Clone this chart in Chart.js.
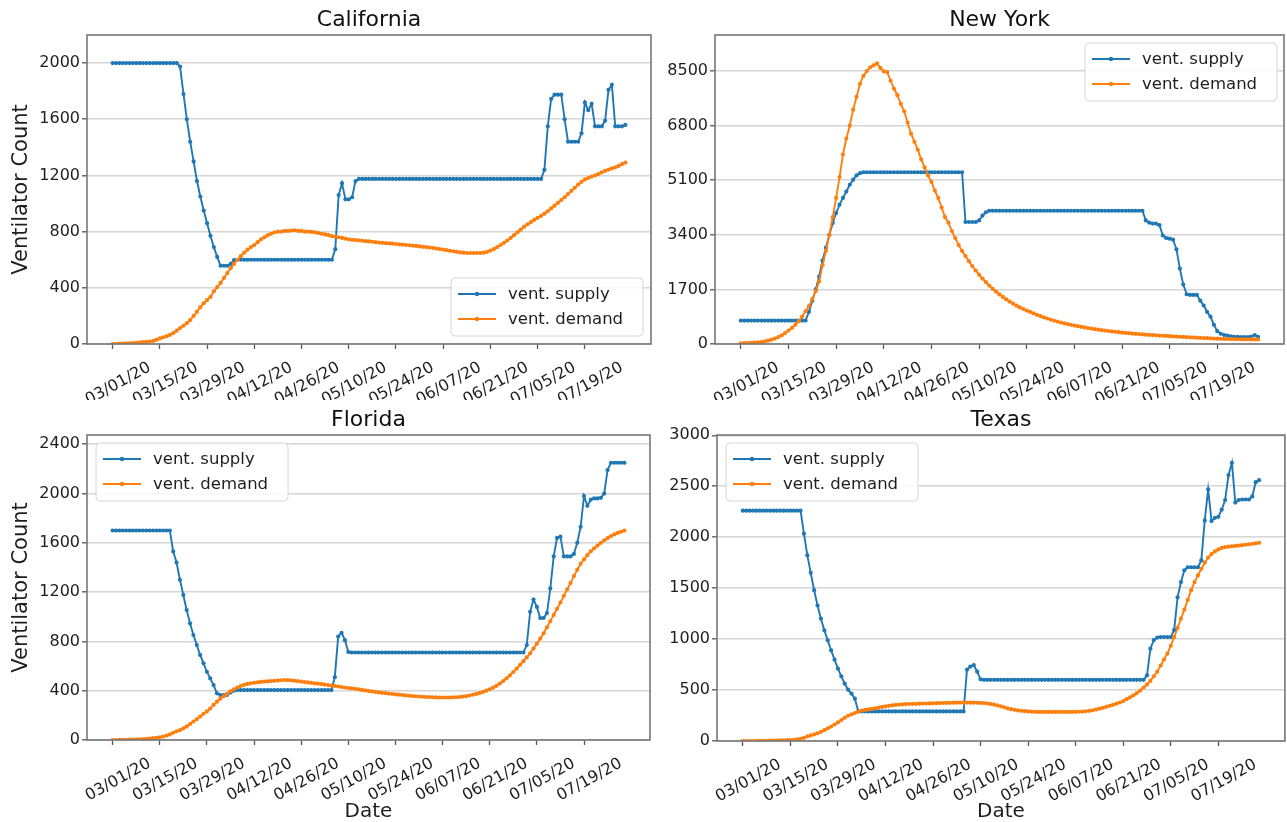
<!DOCTYPE html>
<html><head><meta charset="utf-8">
<script src="https://cdn.jsdelivr.net/npm/chart.js@4.4.1/dist/chart.umd.min.js"></script>
<style>
html,body{margin:0;padding:0;background:#fff;}
#wrap{position:relative;width:1287px;height:822px;overflow:hidden;background:#fff;}
canvas{position:absolute;display:block;}
</style></head><body>
<div id="wrap">
<canvas id="c0" width="660" height="400" style="left:0px;top:0px"></canvas>
<canvas id="c1" width="627" height="400" style="left:660px;top:0px"></canvas>
<canvas id="c2" width="660" height="425" style="left:0px;top:400px"></canvas>
<canvas id="c3" width="627" height="425" style="left:660px;top:400px"></canvas>
</div>
<script>
// ---- tick labels (day index from 03/01/20) ----
const tickDays = [0,14,28,42,56,70,84,98,112,126,140];
const tickLabels = ['03/01/20','03/15/20','03/29/20','04/12/20','04/26/20','05/10/20','05/24/20','06/07/20','06/21/20','07/05/20','07/19/20'];
const seriesNames = ['vent. supply','vent. demand'];

// ---- California ----
const caSupply = [
2000,2000,2000,2000,2000,2000,2000,2000,2000,2000,
2000,2000,2000,2000,2000,2000,2000,2000,2000,2000,
1975,1780,1600,1440,1300,1160,1050,950,860,770,
690,620,557,557,557,570,598,600,600,600,
600,600,600,600,600,600,600,600,600,600,
600,600,600,600,600,600,600,600,600,600,
600,600,600,600,600,600,675,1060,1145,1030,
1030,1045,1160,1175,1175,1175,1175,1175,1175,1175,
1175,1175,1175,1175,1175,1175,1175,1175,1175,1175,
1175,1175,1175,1175,1175,1175,1175,1175,1175,1175,
1175,1175,1175,1175,1175,1175,1175,1175,1175,1175,
1175,1175,1175,1175,1175,1175,1175,1175,1175,1175,
1175,1175,1175,1175,1175,1175,1175,1175,1240,1550,
1745,1775,1775,1775,1600,1440,1440,1440,1440,1500,
1720,1665,1710,1550,1550,1550,1590,1810,1845,1550,
1550,1550,1560];
const caDemand = [
0,1,2,3,4,5,7,9,11,13,
15,17,22,30,40,48,56,65,78,95,
114,130,148,170,200,230,262,290,313,335,
375,405,435,470,505,540,570,600,625,650,
672,690,705,725,745,760,775,785,795,800,
800,805,805,808,810,805,805,800,800,798,
795,790,785,780,775,768,763,760,755,750,
745,742,740,738,735,732,730,728,725,722,
720,718,716,714,712,710,708,705,703,700,
698,695,692,690,687,684,680,676,672,668,
664,660,656,652,650,648,648,648,648,648,
650,656,665,676,690,705,720,737,755,775,
795,815,835,852,868,884,898,912,928,945,
965,985,1005,1025,1045,1068,1090,1112,1135,1155,
1172,1182,1192,1200,1210,1222,1232,1242,1250,1258,
1268,1280,1292];
const caTicks = [0,400,800,1200,1600,2000];

// ---- New York ----
const nySupply = [
730,730,730,730,730,730,730,730,730,730,
730,730,730,730,730,730,730,730,730,730,
1000,1350,1700,2100,2600,3000,3400,3770,4080,4340,
4550,4750,4960,5120,5250,5320,5350,5350,5350,5350,
5350,5350,5350,5350,5350,5350,5350,5350,5350,5350,
5350,5350,5350,5350,5350,5350,5350,5350,5350,5350,
5350,5350,5350,5350,5350,5350,3800,3800,3800,3800,
3850,4000,4100,4150,4150,4150,4150,4150,4150,4150,
4150,4150,4150,4150,4150,4150,4150,4150,4150,4150,
4150,4150,4150,4150,4150,4150,4150,4150,4150,4150,
4150,4150,4150,4150,4150,4150,4150,4150,4150,4150,
4150,4150,4150,4150,4150,4150,4150,4150,4150,3850,
3780,3750,3750,3700,3380,3300,3280,3250,2950,2350,
1850,1550,1530,1530,1530,1350,1200,1000,850,600,
400,320,280,260,240,225,220,215,215,215,
230,280,220];
const nyDemand = [
20,25,30,35,42,50,60,80,105,135,
170,215,270,340,420,500,600,710,850,1020,
1180,1400,1650,1950,2450,2900,3400,3950,4550,5200,
5900,6400,6800,7300,7700,8100,8350,8500,8620,8680,
8740,8600,8490,8470,8200,7950,7750,7480,7250,6900,
6550,6300,6050,5750,5500,5250,5050,4780,4550,4250,
3950,3780,3520,3300,3080,2900,2740,2580,2430,2290,
2160,2040,1930,1820,1720,1630,1545,1465,1390,1320,
1255,1195,1140,1090,1040,1000,955,910,870,830,
795,760,730,700,670,645,620,597,575,555,
535,515,497,480,463,447,432,418,405,392,
380,368,357,346,336,326,317,308,300,292,
284,277,270,263,256,250,244,238,232,226,
220,214,208,202,196,190,185,180,175,170,
166,162,158,155,152,150,148,146,145,144,
143,142,140];
const nyTicks = [0,1700,3400,5100,6800,8500];

// ---- Florida ----
const flSupply = [
1700,1700,1700,1700,1700,1700,1700,1700,1700,1700,
1700,1700,1700,1700,1700,1700,1700,1700,1530,1440,
1300,1177,1055,947,852,771,690,622,554,500,
446,379,365,365,365,385,400,405,405,405,
405,405,405,405,405,405,405,405,405,405,
405,405,405,405,405,405,405,405,405,405,
405,405,405,405,405,405,510,840,870,810,
715,710,710,710,710,710,710,710,710,710,
710,710,710,710,710,710,710,710,710,710,
710,710,710,710,710,710,710,710,710,710,
710,710,710,710,710,710,710,710,710,710,
710,710,710,710,710,710,710,710,710,710,
710,710,710,770,1040,1140,1080,990,990,1030,
1230,1490,1640,1650,1490,1490,1490,1510,1600,1730,
1980,1900,1950,1960,1960,1965,2000,2190,2250,2250,
2250,2250,2250];
const flDemand = [
0,0,1,1,2,3,4,5,6,8,
10,12,15,18,22,28,36,45,58,70,
80,95,110,130,150,170,190,212,232,255,
285,311,335,355,375,395,411,425,438,448,
455,460,464,468,471,474,476,478,480,482,
485,487,486,484,481,478,474,470,467,464,
460,457,454,450,446,442,438,434,430,426,
422,419,415,411,406,402,398,394,390,386,
383,380,377,374,371,368,365,362,359,357,
355,353,351,349,348,347,346,345,345,345,
345,346,347,349,352,356,361,367,374,381,
390,400,412,425,440,458,478,500,525,552,
580,610,640,670,703,742,782,822,866,915,
965,1015,1065,1115,1170,1222,1275,1330,1382,1430,
1465,1500,1530,1555,1578,1600,1620,1638,1655,1668,
1680,1690,1700];
const flTicks = [0,400,800,1200,1600,2000,2400];

// ---- Texas ----
const txSupply = [
2260,2260,2260,2260,2260,2260,2260,2260,2260,2260,
2260,2260,2260,2260,2260,2260,2260,2260,2035,1822,
1650,1480,1330,1200,1086,988,890,798,710,635,
563,504,465,415,290,290,290,290,290,290,
290,290,290,290,290,290,290,290,290,290,
290,290,290,290,290,290,290,290,290,290,
290,290,290,290,290,290,700,730,745,680,
605,600,600,600,600,600,600,600,600,600,
600,600,600,600,600,600,600,600,600,600,
600,600,600,600,600,600,600,600,600,600,
600,600,600,600,600,600,600,600,600,600,
600,600,600,600,600,600,600,600,600,645,
906,990,1015,1020,1020,1020,1020,1090,1410,1560,
1675,1705,1705,1705,1705,1775,2165,2470,2160,2190,
2200,2270,2365,2610,2730,2340,2365,2370,2370,2370,
2400,2540,2560];
const txDemand = [
0,0,0,0,1,1,2,2,3,4,
5,6,7,8,10,12,16,22,30,45,
55,65,76,90,106,124,142,162,182,205,
228,248,262,275,287,298,305,310,315,320,
328,335,340,345,350,354,357,360,362,363,
364,365,366,367,368,369,370,371,372,373,
374,375,376,376,377,377,377,376,376,375,
374,372,368,362,356,349,340,330,320,312,
306,300,296,293,290,288,286,285,285,285,
285,285,285,285,285,285,285,285,286,287,
289,292,296,302,309,317,326,335,345,355,
366,378,392,410,428,448,470,495,525,555,
590,635,680,740,800,857,935,1020,1110,1200,
1290,1385,1480,1560,1625,1690,1750,1800,1835,1860,
1880,1895,1903,1907,1910,1914,1918,1922,1926,1930,
1935,1940,1945];
const txTicks = [0,500,1000,1500,2000,2500,3000];

// ---------------- drawing ----------------
Chart.defaults.font.family = "'DejaVu Sans', sans-serif";
Chart.defaults.color = '#1e1e1e';
const BLUE = '#1f77b4', ORANGE = '#ff7f0e';
const TXT = '#1e1e1e';

const framePlugin = {
  id: 'frame',
  afterDatasetsDraw(chart) {
    const {ctx, chartArea: a} = chart;
    ctx.save();
    ctx.strokeStyle = '#777777';
    ctx.lineWidth = 1.6;
    ctx.strokeRect(a.left, a.top, a.right - a.left, a.bottom - a.top);
    ctx.restore();
  }
};

const innerLegend = {
  id: 'innerLegend',
  afterDraw(chart, args, opts) {
    if (!opts || !opts.loc) return;
    const {ctx, chartArea: a} = chart;
    const w = 192, h = 58;
    let x, y;
    if (opts.loc === 'lower right') { x = a.right - 8 - w; y = a.bottom - 8 - h; }
    else if (opts.loc === 'upper right') { x = a.right - 7 - w; y = a.top + 8; }
    else { x = a.left + 9; y = a.top + 8; }
    ctx.save();
    ctx.beginPath();
    ctx.roundRect(x, y, w, h, 4);
    ctx.fillStyle = 'rgba(255,255,255,0.85)';
    ctx.fill();
    ctx.strokeStyle = '#d6d6d6';
    ctx.lineWidth = 1;
    ctx.stroke();
    const rows = [chart.data.datasets.find(d => d.label === seriesNames[0]), chart.data.datasets.find(d => d.label === seriesNames[1])];
    rows.forEach((ds, k) => {
      const cy = y + 16 + k * 25;
      ctx.strokeStyle = ds.borderColor;
      ctx.lineWidth = 1.8;
      ctx.beginPath(); ctx.moveTo(x + 7, cy); ctx.lineTo(x + 45, cy); ctx.stroke();
      ctx.fillStyle = ds.borderColor;
      ctx.beginPath(); ctx.arc(x + 26, cy, 2.2, 0, Math.PI * 2); ctx.fill();
      ctx.fillStyle = TXT;
      ctx.font = "16.5px 'DejaVu Sans', sans-serif";
      ctx.textBaseline = 'middle';
      ctx.textAlign = 'left';
      ctx.fillText(ds.label, x + 57, cy + 1);
    });
    ctx.restore();
  }
};

function makePanel(id, title, supply, demand, yTicks, yMax, cfg) {
  const toXY = arr => arr.map((v, i) => ({x: i, y: v}));
  const line = (label, data, color, order) => ({
    label, data: toXY(data), borderColor: color, backgroundColor: color,
    borderWidth: 1.9, pointRadius: 2.1, pointHoverRadius: 2.1, pointBorderWidth: 0,
    pointBackgroundColor: color, tension: 0, order
  });
  new Chart(document.getElementById(id), {
    type: 'line',
    data: { datasets: [line(seriesNames[0], supply, BLUE, 1), line(seriesNames[1], demand, ORANGE, 0)] },
    options: {
      responsive: false, animation: false, devicePixelRatio: 1,
      layout: { padding: { left: 0, right: cfg.padRight, top: 0, bottom: 0 } },
      plugins: {
        legend: { display: false },
        tooltip: { enabled: false },
        title: { display: true, text: title, fullSize: false, color: '#111',
          font: { size: 22, weight: 'normal' }, padding: { top: 7, bottom: 1.6 } },
        innerLegend: { loc: cfg.legendLoc }
      },
      scales: {
        x: {
          type: 'linear', min: -7.6, max: 159.6,
          afterBuildTicks: s => { s.ticks = tickDays.map(v => ({ value: v })); },
          afterFit: s => { s.height = cfg.xH; },
          ticks: { autoSkip: false, minRotation: 29, maxRotation: 29, labelOffset: 37, padding: 9,
            font: { size: 16 }, color: TXT,
            callback: v => tickLabels[tickDays.indexOf(v)] },
          grid: { display: true, drawOnChartArea: false, drawTicks: true, tickLength: 5, tickColor: '#555', tickWidth: 1.3 },
          border: { display: false },
          title: { display: !!cfg.xTitle, text: 'Date', font: { size: 20 }, color: TXT, padding: { top: 0, bottom: 1 } }
        },
        y: {
          type: 'linear', min: 0, max: yMax,
          afterBuildTicks: s => { s.ticks = yTicks.map(v => ({ value: v })); },
          afterFit: s => { s.width = cfg.yW; },
          ticks: { font: { size: 16 }, color: TXT, padding: 2, callback: v => String(v) },
          grid: { color: '#d6d6d6', lineWidth: 1.6, drawTicks: true, tickLength: 5, tickColor: '#555', tickWidth: 1.3 },
          border: { display: false },
          title: { display: !!cfg.yTitle, text: 'Ventilator Count', font: { size: 21 }, color: TXT, padding: { top: 9, bottom: 0 } }
        }
      }
    },
    plugins: [framePlugin, innerLegend]
  });
}

makePanel('c0', 'California', caSupply, caDemand, caTicks, 2200,
  { padRight: 9, yW: 87, xH: 56, yTitle: true, xTitle: false, legendLoc: 'lower right' });
makePanel('c1', 'New York', nySupply, nyDemand, nyTicks, 9625,
  { padRight: 3, yW: 55, xH: 56, yTitle: false, xTitle: false, legendLoc: 'upper right' });
makePanel('c2', 'Florida', flSupply, flDemand, flTicks, 2475,
  { padRight: 10, yW: 87, xH: 85, yTitle: true, xTitle: true, legendLoc: 'upper left' });
makePanel('c3', 'Texas', txSupply, txDemand, txTicks, 3003,
  { padRight: 1, yW: 57, xH: 84, yTitle: false, xTitle: true, legendLoc: 'upper left' });
</script>
</body></html>
